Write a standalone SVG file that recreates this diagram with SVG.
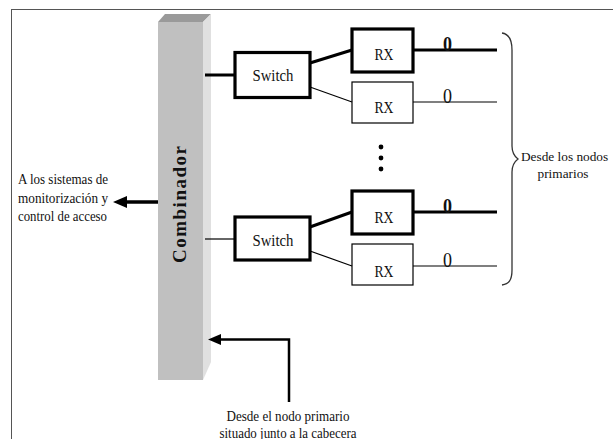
<svg xmlns="http://www.w3.org/2000/svg" width="613" height="439" viewBox="0 0 613 439">
  <style>
    text { font-family: "Liberation Serif", "Times New Roman", serif; fill: #111; }
    .lbl { font-size: 14.5px; }
    .box-thick { fill: #fff; stroke: #000; stroke-width: 3.2; }
    .box-thin { fill: #fff; stroke: #000; stroke-width: 1.2; }
    .w-thick { stroke: #000; stroke-width: 3; fill: none; }
    .w-thin { stroke: #000; stroke-width: 1.2; fill: none; }
    .sw { font-size: 17px; text-anchor: middle; }
    .rx { font-size: 16px; text-anchor: middle; }
    .loop { font-size: 21px; text-anchor: middle; }
  </style>

  <rect width="613" height="439" fill="#fff"/>
  <!-- outer frame (extends past the page edges) -->
  <rect x="11.5" y="9.5" width="700" height="500" fill="none" stroke="#555" stroke-width="1"/>

  <!-- combiner column with bevelled top and side -->
  <g id="combinador">
    <polygon points="158,22 165,14 211,14 203,22" fill="#9a9a9a"/>
    <rect x="158" y="22" width="45" height="358" fill="#c0c0c0"/>
    <polygon points="203,22 211,14 211,362 203,380" fill="#e0e0e0"/>
    <text transform="translate(186,263) rotate(-90)" font-size="19" font-weight="bold" letter-spacing="1.5">Combinador</text>
  </g>

  <g id="switch1">
    <rect class="box-thick" x="235" y="52.5" width="75" height="45"/>
    <text class="sw" x="273" y="80.5" textLength="41" lengthAdjust="spacingAndGlyphs">Switch</text>
  </g>
  <g id="switch2">
    <rect class="box-thick" x="235" y="217" width="75" height="43"/>
    <text class="sw" x="273" y="246" textLength="41" lengthAdjust="spacingAndGlyphs">Switch</text>
  </g>

  <g id="rx1">
    <rect class="box-thick" x="352" y="29" width="61" height="43"/>
    <text class="rx" x="384" y="59.5" textLength="19" lengthAdjust="spacingAndGlyphs">RX</text>
  </g>
  <g id="rx2">
    <rect class="box-thin" x="352" y="82" width="61" height="41"/>
    <text class="rx" x="384" y="113" textLength="19" lengthAdjust="spacingAndGlyphs">RX</text>
  </g>
  <g id="rx3">
    <rect class="box-thick" x="352" y="191" width="61" height="43"/>
    <text class="rx" x="384" y="223" textLength="19" lengthAdjust="spacingAndGlyphs">RX</text>
  </g>
  <g id="rx4">
    <rect class="box-thin" x="352" y="244" width="61" height="41"/>
    <text class="rx" x="384" y="277" textLength="19" lengthAdjust="spacingAndGlyphs">RX</text>
  </g>

  <!-- vertical ellipsis between the two receiver groups -->
  <g id="ellipsis" fill="#000">
    <circle cx="381" cy="147" r="2.4"/>
    <circle cx="381" cy="158" r="2.4"/>
    <circle cx="381" cy="169" r="2.4"/>
  </g>

  <g id="connectors">
    <line class="w-thick" x1="205" y1="75" x2="235" y2="75"/>
    <line class="w-thin" x1="205" y1="239" x2="235" y2="239"/>

    <line class="w-thick" x1="310" y1="63" x2="352" y2="50"/>
    <line class="w-thin" x1="310" y1="87" x2="352" y2="102"/>
    <line class="w-thick" x1="310" y1="227" x2="352" y2="212"/>
    <line class="w-thin" x1="310" y1="251" x2="352" y2="266"/>

    <line class="w-thick" x1="413" y1="50" x2="497" y2="50"/>
    <line class="w-thin" x1="413" y1="102" x2="497" y2="102"/>
    <line class="w-thick" x1="413" y1="212" x2="497" y2="212"/>
    <line class="w-thin" x1="413" y1="266" x2="497" y2="266"/>

    <text class="loop" x="447.5" y="50.5" font-weight="bold" textLength="9" lengthAdjust="spacingAndGlyphs">0</text>
    <text class="loop" x="447.5" y="102.5" textLength="9" lengthAdjust="spacingAndGlyphs">0</text>
    <text class="loop" x="447.5" y="212.5" font-weight="bold" textLength="9" lengthAdjust="spacingAndGlyphs">0</text>
    <text class="loop" x="447.5" y="266.5" textLength="9" lengthAdjust="spacingAndGlyphs">0</text>

    <!-- output to monitoring systems -->
    <line x1="158" y1="202" x2="124" y2="202" stroke="#000" stroke-width="3.5"/>
    <polygon points="113,202 127,196 127,208" fill="#000"/>

    <!-- input from the head-end primary node -->
    <polyline points="289,402 289,339.5 219,339.5" fill="none" stroke="#000" stroke-width="2.5"/>
    <polygon points="208,339.5 221,334 221,345" fill="#000"/>

    <!-- brace grouping the receiver inputs -->
    <path d="M502,33 C509,34 512,40 512,50 L512,146 C512,152 514,156 518,159 C514,162 512,166 512,172 L512,270 C512,280 509,284 502,285" fill="none" stroke="#333" stroke-width="1.3"/>
  </g>

  <g id="labels" class="lbl">
    <text x="18" y="184" textLength="90" lengthAdjust="spacingAndGlyphs">A los sistemas de</text>
    <text x="18" y="203" textLength="90" lengthAdjust="spacingAndGlyphs">monitorización y</text>
    <text x="18" y="221" textLength="89" lengthAdjust="spacingAndGlyphs">control de acceso</text>

    <text x="521" y="161" font-size="13.3">Desde los nodos</text>
    <text x="563" y="178" font-size="13.3" text-anchor="middle">primarios</text>

    <text x="288" y="421" textLength="123" lengthAdjust="spacingAndGlyphs" text-anchor="middle">Desde el nodo primario</text>
    <text x="288" y="437.5" textLength="137" lengthAdjust="spacingAndGlyphs" text-anchor="middle">situado junto a la cabecera</text>
  </g>
</svg>
